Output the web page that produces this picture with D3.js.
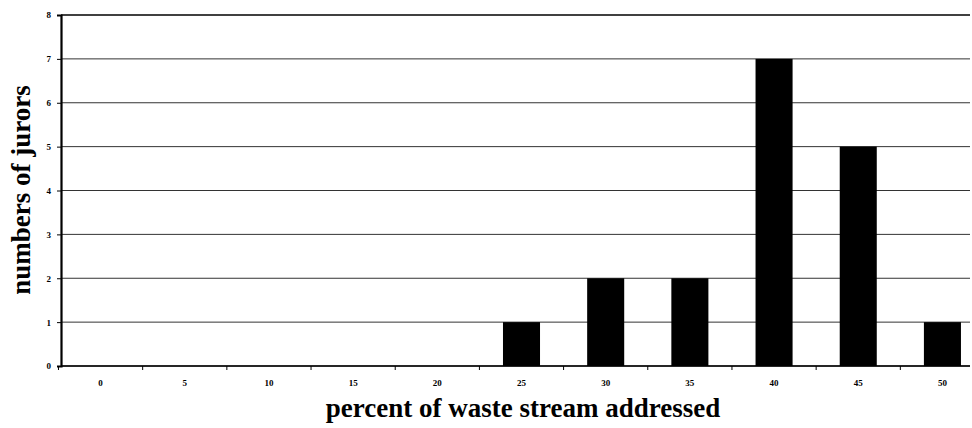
<!DOCTYPE html>
<html>
<head>
<meta charset="utf-8">
<script src="https://cdn.jsdelivr.net/npm/d3@7"></script>
<style>
  body { margin: 0; background: #fff; }
  text { font-family: "Liberation Serif", "Times New Roman", serif; font-weight: bold; }
</style>
</head>
<body>
<div id="chart"></div>
<script>
// Data
const percents = ["0", "5", "10", "15", "20", "25", "30", "35", "40", "45", "50"];
const jurors = [0, 0, 0, 0, 0, 1, 2, 2, 7, 5, 1];
const yTicks = [0, 1, 2, 3, 4, 5, 6, 7, 8];

const width = 972;
const height = 428;
const margin = { top: 15, right: -10, bottom: 62, left: 61 };

const svg = d3.select("#chart")
    .append("svg")
    .attr("width", width)
    .attr("height", height);

// Scales
const xScale = d3.scaleBand()
    .domain(percents)
    .range([margin.left, width - margin.right])
    .paddingInner(0.56)
    .paddingOuter(0.25);

const yScale = d3.scaleLinear()
    .domain([0, 8])
    .range([height - margin.bottom, margin.top]);

// Horizontal gridlines
svg.append("g")
    .selectAll("line")
    .data(yTicks)
    .enter()
    .append("line")
    .attr("x1", margin.left)
    .attr("x2", 970)
    .attr("y1", d => yScale(d))
    .attr("y2", d => yScale(d))
    .attr("stroke", d => d === 8 ? "#000" : "#333")
    .attr("stroke-width", d => d === 8 ? 1.6 : 1);

// Bars
svg.selectAll(".bar")
    .data(jurors)
    .enter()
    .append("rect")
    .attr("class", "bar")
    .attr("x", (d, i) => xScale(percents[i]))
    .attr("y", d => yScale(d))
    .attr("width", xScale.bandwidth())
    .attr("height", d => yScale(0) - yScale(d))
    .attr("fill", "#000");

// x-axis: ticks at band boundaries, labels at centres
const step = xScale.step();
const xAxis = svg.append("g")
    .attr("transform", `translate(0, ${yScale(0)})`);
xAxis.append("line")
    .attr("x1", margin.left).attr("x2", 970)
    .attr("stroke", "#000").attr("stroke-width", 1.6);
xAxis.selectAll(".tick-mark")
    .data(percents)
    .enter()
    .append("line")
    .attr("x1", d => xScale(d) + xScale.bandwidth() / 2 - step / 2)
    .attr("x2", d => xScale(d) + xScale.bandwidth() / 2 - step / 2)
    .attr("y1", 0).attr("y2", 4)
    .attr("stroke", "#000");
xAxis.selectAll(".tick-label")
    .data(percents)
    .enter()
    .append("text")
    .attr("x", d => xScale(d) + xScale.bandwidth() / 2)
    .attr("y", 20)
    .attr("text-anchor", "middle")
    .attr("font-size", 9)
    .text(d => d);

// y-axis
svg.append("g")
    .attr("transform", `translate(${margin.left}, 0)`)
    .call(d3.axisLeft(yScale).tickValues(yTicks).tickSize(4).tickPadding(6).tickFormat(d3.format("d")))
    .call(g => g.select(".domain").attr("stroke-width", 2.2))
    .call(g => g.selectAll(".tick text")
        .attr("font-size", 9)
        .attr("font-family", "Liberation Serif, serif")
        .attr("font-weight", "bold"));

// Axis titles
svg.append("text")
    .attr("x", 523)
    .attr("y", 417)
    .attr("text-anchor", "middle")
    .attr("font-size", 27)
    .text("percent of waste stream addressed");

svg.append("text")
    .attr("transform", "translate(30, 190) rotate(-90)")
    .attr("text-anchor", "middle")
    .attr("font-size", 27)
    .text("numbers of jurors");
</script>
</body>
</html>
